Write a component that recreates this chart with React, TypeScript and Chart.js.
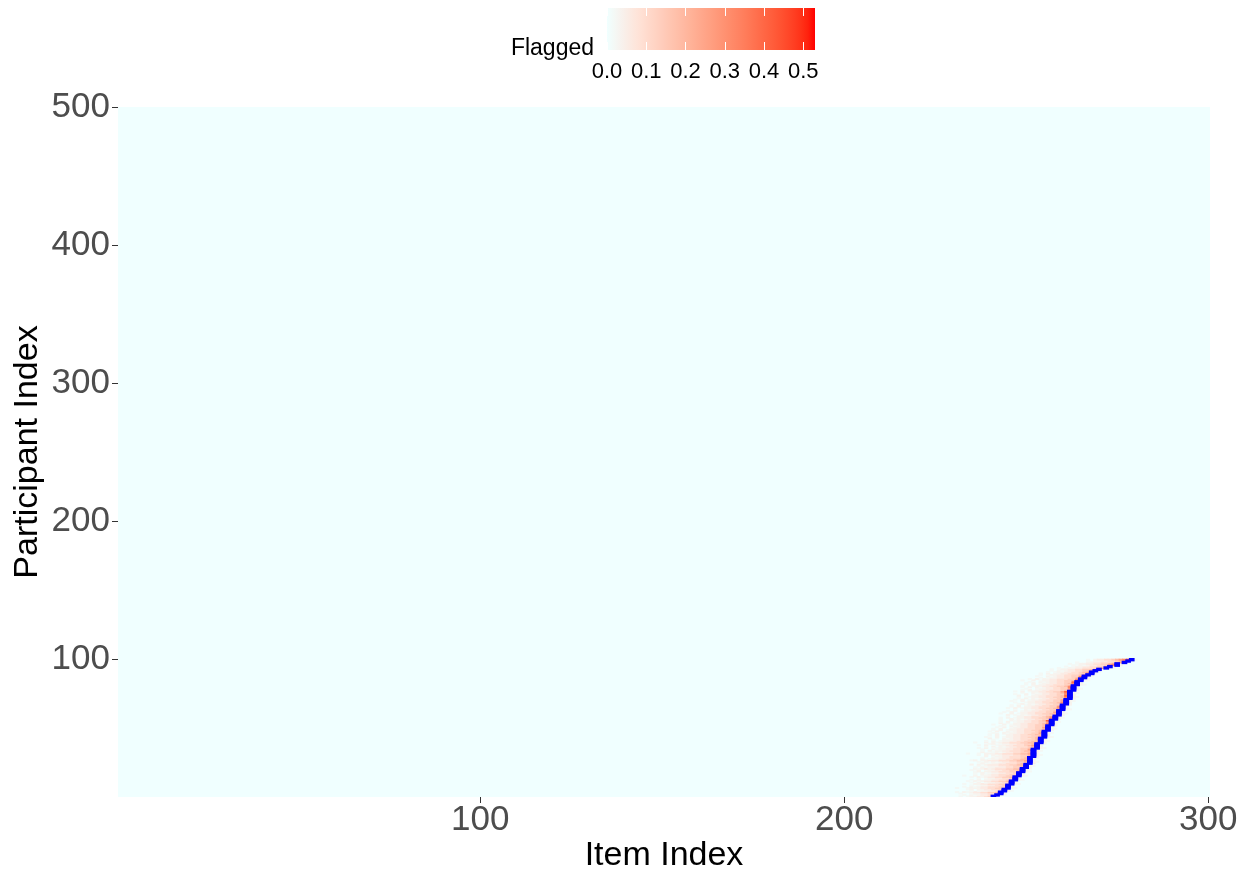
import React, { useEffect, useRef } from "react";
import { Chart, registerables } from "chart.js";

Chart.register(...registerables);

// ---------- data ----------
const itemRange = [0.5, 300.5];
const participantRange = [0.5, 500.5];
const xTickValues = [100, 200, 300];
const yTickValues = [100, 200, 300, 400, 500];
const legendTicks = [0, 0.1, 0.2, 0.3, 0.4, 0.5];
const legendMax = 0.53;
const lowColor = [240, 255, 255]; // azure
const highColor = [255, 0, 0]; // red
const levelValues = [0, 0.02, 0.035, 0.055, 0.09, 0.13, 0.18, 0.25, 0.32, 0.42];

// item index of the blue (true) cell for participants 1..100
const blueItem = [
  241, 242, 243, 243, 244, 244, 245, 245, 245, 246,
  246, 246, 247, 247, 247, 248, 248, 248, 249, 249,
  249, 250, 250, 250, 251, 251, 251, 251, 251, 252,
  252, 252, 252, 252, 252, 253, 253, 253, 253, 254,
  254, 254, 254, 255, 255, 255, 255, 255, 256, 256,
  256, 256, 257, 257, 257, 257, 258, 258, 258, 259,
  259, 259, 259, 260, 260, 260, 260, 261, 261, 261,
  261, 262, 262, 262, 262, 262, 262, 263, 263, 263,
  263, 264, 264, 264, 265, 265, 266, 266, 267, 268,
  268, 269, 270, 272, 273, 275, 275, 277, 278, 279,
];

// flagged levels per participant row, items around the blue cell ('B'); '.' = 0
const rowProfiles = [
  "..1.1223345B2",
  ".1.2123344B21",
  "1..12233445B2",
  ".1.2123344556B2",
  "..1.1223344B31",
  ".12.2233445B2",
  "1..12223344556B21",
  ".1.2123344455B2",
  "..1.12233445B2",
  ".1..2233444556B21",
  "1.2.1223344B2",
  "..1.2123344556B2",
  ".1.2.22334455B21",
  "..1.12233445B2",
  ".1.2123344556B2",
  "1..2.1223344556B21",
  "..1.2123344455B2",
  ".1.2.12233445B2",
  "..12.2233444556B21",
  ".1.2.1223344556B2",
  "..2123234445566B21",
  "1.2.2233344557B2",
  "1.12223344556B21",
  "2.2123334445566B2",
  "2.12233444567B3",
  "1.2.2123344556B21",
  "12.2233344455667B2",
  "2.12233445566B2",
  "1..2123344456B21",
  "2.12233444557B2",
  ".1.2.21233344556B21",
  "1..1.2223344455667B2",
  ".2..12123344556B2",
  "..1.2.2233444566B31",
  ".1..21223344557B2",
  "1.2..12233445566B21",
  "..1.2.2123344456B2",
  ".1.2..12233444567B2",
  "..12.1223344556B21",
  "1..2.2123344455667B2",
  ".1.2.12233445566B21",
  "..1..2223344556B2",
  ".2.1.2123344456B3",
  "1..2.12233445567B21",
  ".1.2..2233444556B2",
  "..1.2.12233445566B2",
  ".1..21223344557B21",
  "1.2..2123344456B2",
  "..1.2.12233445567B2",
  ".1.2..2233444556B21",
  "..1.2.1223344557B2",
  ".1..2123344556B21",
  "1..2.12233445567B2",
  ".2.1.2233444568B2",
  "..1.2.1223344557B21",
  ".1..21223344569B2",
  "1..2.2123344558B2",
  ".1.2.12233445568B21",
  "..1..2233444567B2",
  ".2.1.2123344557B2",
  "1..2.12233445566B21",
  ".1.2..2233444557B2",
  "..1.2.1223344556B2",
  ".1..2123344557B21",
  "1.2.12233445567B2",
  "..1.2.2233444558B2",
  ".1.2.1223344556B21",
  "..12.2123344557B2",
  ".1..12233445568B2",
  "1..2.2233444557B21",
  "..1.2.1223344557B2",
  ".1.2.2123344558B2",
  "..1..12233445568B21",
  ".2.1.2233444569B2",
  "1..2.1223344558B2",
  ".1..2123344568B21",
  "..1.2.12233445579B2",
  ".1.2.2233444568B2",
  "..1..1223344557B21",
  "1.2.2123344558B2",
  ".1..12233445568B2",
  "..1.2.2233444558B21",
  ".1.2.1223344568B2",
  "..1..2123344559B2",
  "1..2.12233445568B21",
  ".1.2.2233444558B2",
  "..1.1223344567B2",
  ".1..2123344558B21",
  "..1.12233445568B2",
  ".1.2.2233444557B2",
  "..1.1223344567B21",
  ".1.2123344557B2",
  "..1.12233445568B2",
  ".1..2233444557B21",
  "..1.1223344557B2",
  ".1.2123344568B2",
  "..1.12233445578B1",
  ".1..2233444567B2",
  "..1.223344568B1",
  "..1.2334456789B1",
];

// ---------- colour (Lab interpolation like ggplot) ----------
function toLin(c: number) {
  c /= 255;
  return c <= 0.04045 ? c / 12.92 : Math.pow((c + 0.055) / 1.055, 2.4);
}
function fromLin(c: number) {
  const v = c <= 0.0031308 ? 12.92 * c : 1.055 * Math.pow(c, 1 / 2.4) - 0.055;
  return Math.round(Math.max(0, Math.min(1, v)) * 255);
}
const WX = 0.95047, WY = 1.0, WZ = 1.08883;
function fLab(t: number) {
  return t > 0.008856 ? Math.cbrt(t) : 7.787 * t + 16 / 116;
}
function fInv(t: number) {
  return t > 0.206893 ? t * t * t : (t - 16 / 116) / 7.787;
}
function rgbToLab(rgb: number[]) {
  const r = toLin(rgb[0]), g = toLin(rgb[1]), b = toLin(rgb[2]);
  const x = (0.4124 * r + 0.3576 * g + 0.1805 * b) / WX;
  const y = (0.2126 * r + 0.7152 * g + 0.0722 * b) / WY;
  const z = (0.0193 * r + 0.1192 * g + 0.9505 * b) / WZ;
  const fx = fLab(x), fy = fLab(y), fz = fLab(z);
  return [116 * fy - 16, 500 * (fx - fy), 200 * (fy - fz)];
}
function labToRgb(lab: number[]) {
  const fy = (lab[0] + 16) / 116;
  const fx = fy + lab[1] / 500;
  const fz = fy - lab[2] / 200;
  const x = fInv(fx) * WX, y = fInv(fy) * WY, z = fInv(fz) * WZ;
  const r = 3.2406 * x - 1.5372 * y - 0.4986 * z;
  const g = -0.9689 * x + 1.8758 * y + 0.0415 * z;
  const b = 0.0557 * x - 0.204 * y + 1.057 * z;
  return [fromLin(r), fromLin(g), fromLin(b)];
}
const lowLab = rgbToLab(lowColor);
const highLab = rgbToLab(highColor);
function colorFor(v: number) {
  const t = Math.max(0, Math.min(1, v / legendMax));
  const lab = [0, 1, 2].map((i) => lowLab[i] + (highLab[i] - lowLab[i]) * t);
  const [r, g, b] = labToRgb(lab);
  return `rgb(${r},${g},${b})`;
}

const FONT = "'Liberation Sans', Arial, Helvetica, sans-serif";

export default function App() {
  const canvasRef = useRef<HTMLCanvasElement | null>(null);

  useEffect(() => {
    document.body.style.margin = "0";
    const canvas = canvasRef.current;
    if (!canvas) return;

    const redData: { x: number; y: number[]; v: number }[] = [];
    const blueData: { x: number; y: number[] }[] = [];
    rowProfiles.forEach((s, k) => {
      const p = k + 1;
      const b = s.indexOf("B");
      const center = blueItem[k];
      blueData.push({ x: center, y: [p - 0.5, p + 0.5] });
      for (let j = 0; j < s.length; j++) {
        if (j === b) continue;
        const ch = s[j];
        if (ch === ".") continue;
        const v = levelValues[parseInt(ch, 10)];
        redData.push({ x: center + (j - b), y: [p - 0.5, p + 0.5], v });
      }
    });

    const bgPlugin = {
      id: "panelBg",
      beforeDatasetsDraw(chart: any) {
        const { ctx, chartArea } = chart;
        ctx.save();
        ctx.fillStyle = colorFor(0);
        ctx.fillRect(chartArea.left, chartArea.top, chartArea.right - chartArea.left, chartArea.bottom - chartArea.top);
        ctx.restore();
      },
    };

    const legendPlugin = {
      id: "colorbar",
      afterDraw(chart: any) {
        const ctx = chart.ctx as CanvasRenderingContext2D;
        const x0 = 607, x1 = 815, y0 = 8, y1 = 50;
        ctx.save();
        const grad = ctx.createLinearGradient(x0, 0, x1, 0);
        for (let i = 0; i <= 30; i++) {
          grad.addColorStop(i / 30, colorFor((legendMax * i) / 30));
        }
        ctx.fillStyle = grad;
        ctx.fillRect(x0, y0, x1 - x0, y1 - y0);
        ctx.strokeStyle = "#ffffff";
        ctx.lineWidth = 1;
        ctx.fillStyle = "#000000";
        ctx.font = `22px ${FONT}`;
        ctx.textAlign = "center";
        ctx.textBaseline = "alphabetic";
        legendTicks.forEach((t) => {
          const x = x0 + ((x1 - x0) * t) / legendMax;
          const xs = Math.round(x) + 0.5;
          ctx.beginPath();
          ctx.moveTo(xs, y0);
          ctx.lineTo(xs, y0 + 8);
          ctx.moveTo(xs, y1 - 8);
          ctx.lineTo(xs, y1);
          ctx.stroke();
          ctx.fillText(t.toFixed(1), x, 78);
        });
        ctx.font = `23px ${FONT}`;
        ctx.textAlign = "right";
        ctx.fillText("Flagged", 594, 55);
        ctx.restore();
      },
    };

    const chart = new Chart(canvas, {
      type: "bar",
      data: {
        datasets: [
          {
            label: "true",
            data: blueData as any,
            backgroundColor: "#0000FF",
            borderColor: "#0000C8",
            borderWidth: 0,
            inflateAmount: 1,
            barThickness: 3.7,
            grouped: false,
          } as any,
          {
            label: "Flagged",
            data: redData as any,
            backgroundColor: redData.map((d) => colorFor(d.v)),
            borderWidth: 0,
            barThickness: 3.7,
            grouped: false,
          } as any,
        ],
      },
      options: {
        animation: false,
        responsive: false,
        devicePixelRatio: 1,
        layout: { padding: { top: 107, right: 37, left: 0, bottom: 0 } },
        plugins: { legend: { display: false }, tooltip: { enabled: false } },
        scales: {
          x: {
            type: "linear",
            min: itemRange[0],
            max: itemRange[1],
            offset: false,
            afterBuildTicks: (scale: any) => {
              scale.ticks = xTickValues.map((v) => ({ value: v }));
            },
            afterFit: (scale: any) => {
              scale.height = 76;
            },
            grid: { offset: false, drawOnChartArea: false, drawTicks: true, tickLength: 6, color: "#333333", lineWidth: 1 },
            border: { display: false },
            ticks: {
              autoSkip: false,
              maxRotation: 0,
              color: "#4D4D4D",
              padding: 0,
              font: { family: FONT, size: 35, lineHeight: 1 },
            },
            title: {
              display: true,
              text: "Item Index",
              color: "#000000",
              font: { family: FONT, size: 34, lineHeight: 1 },
              padding: { top: 0, bottom: 0 },
            },
          },
          y: {
            type: "linear",
            min: participantRange[0],
            max: participantRange[1],
            afterBuildTicks: (scale: any) => {
              scale.ticks = yTickValues.map((v) => ({ value: v }));
            },
            afterFit: (scale: any) => {
              scale.width = 118;
            },
            grid: { offset: false, drawOnChartArea: false, drawTicks: true, tickLength: 6, color: "#333333", lineWidth: 1 },
            border: { display: false },
            ticks: {
              autoSkip: false,
              color: "#4D4D4D",
              padding: 2,
              font: { family: FONT, size: 35, lineHeight: 1 },
            },
            title: {
              display: true,
              text: "Participant Index",
              color: "#000000",
              font: { family: FONT, size: 34, lineHeight: 1 },
              padding: { top: 11, bottom: 0 },
            },
          },
        },
      },
      plugins: [bgPlugin, legendPlugin],
    });

    return () => chart.destroy();
  }, []);

  return (
    <div style={{ width: 1247, height: 873, position: "relative" }}>
      <canvas ref={canvasRef} width={1247} height={873} style={{ display: "block" }} />
    </div>
  );
}
